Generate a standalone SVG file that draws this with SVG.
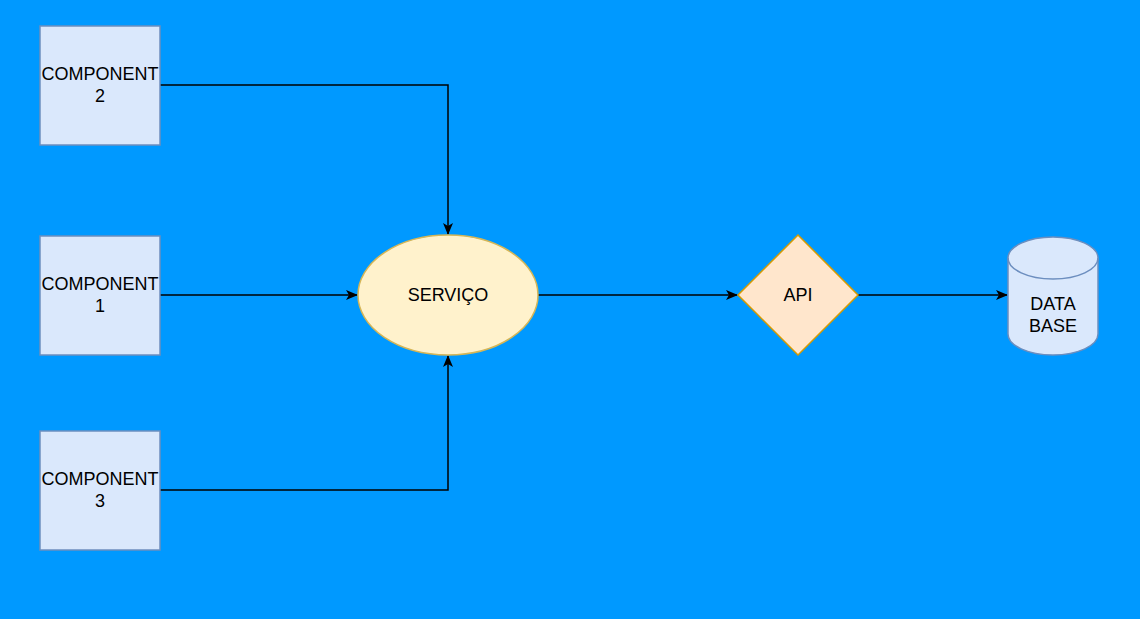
<svg xmlns="http://www.w3.org/2000/svg" width="1140" height="619" viewBox="0 0 1140 619">
<style>
.box{fill:#dae8fc;stroke:#6c8ebf;stroke-width:1.5}
.t{font-family:"Liberation Sans",Arial,sans-serif;font-size:18px;fill:#000;text-anchor:middle}
.e{fill:none;stroke:#000;stroke-width:1.5}
</style>
<defs>
<marker id="arr" viewBox="0 0 12 10" refX="11" refY="5" markerWidth="12" markerHeight="10" markerUnits="userSpaceOnUse" orient="auto">
<path d="M0,0 L12,5 L0,10 L3,5 Z" fill="#000"/>
</marker>
</defs>
<rect width="1140" height="619" fill="#0099ff"/>
<g id="connectors">
<path class="e" d="M160,85 H448 V234" marker-end="url(#arr)"/>
<path class="e" d="M160,295 H357" marker-end="url(#arr)"/>
<path class="e" d="M160,490 H448 V356" marker-end="url(#arr)"/>
<path class="e" d="M538,295 H737" marker-end="url(#arr)"/>
<path class="e" d="M858,295 H1007" marker-end="url(#arr)"/>
</g>
<g id="component2">
<rect class="box" x="40" y="26" width="120" height="119"/>
<text class="t" x="100" y="80">COMPONENT</text>
<text class="t" x="100" y="102">2</text>
</g>
<g id="component1">
<rect class="box" x="40" y="236" width="120" height="119"/>
<text class="t" x="100" y="290">COMPONENT</text>
<text class="t" x="100" y="312">1</text>
</g>
<g id="component3">
<rect class="box" x="40" y="431" width="120" height="119"/>
<text class="t" x="100" y="485">COMPONENT</text>
<text class="t" x="100" y="507">3</text>
</g>
<g id="servico">
<ellipse cx="448" cy="295" rx="90" ry="60" fill="#fff2cc" stroke="#d6b656" stroke-width="1.5"/>
<text class="t" x="448" y="301">SERVIÇO</text>
</g>
<g id="api">
<polygon points="798,235 858,295 798,355 738,295" fill="#ffe6cc" stroke="#d79b00" stroke-width="1.5"/>
<text class="t" x="798" y="301">API</text>
</g>
<g id="database">
<path d="M1008,258 A45,21 0 0 1 1098,258 V334 A45,21 0 0 1 1008,334 Z" class="box"/>
<path d="M1008,258 A45,21 0 0 0 1098,258" fill="none" stroke="#6c8ebf" stroke-width="1.5"/>
<text class="t" x="1053" y="310">DATA</text>
<text class="t" x="1053" y="332">BASE</text>
</g>
</svg>
